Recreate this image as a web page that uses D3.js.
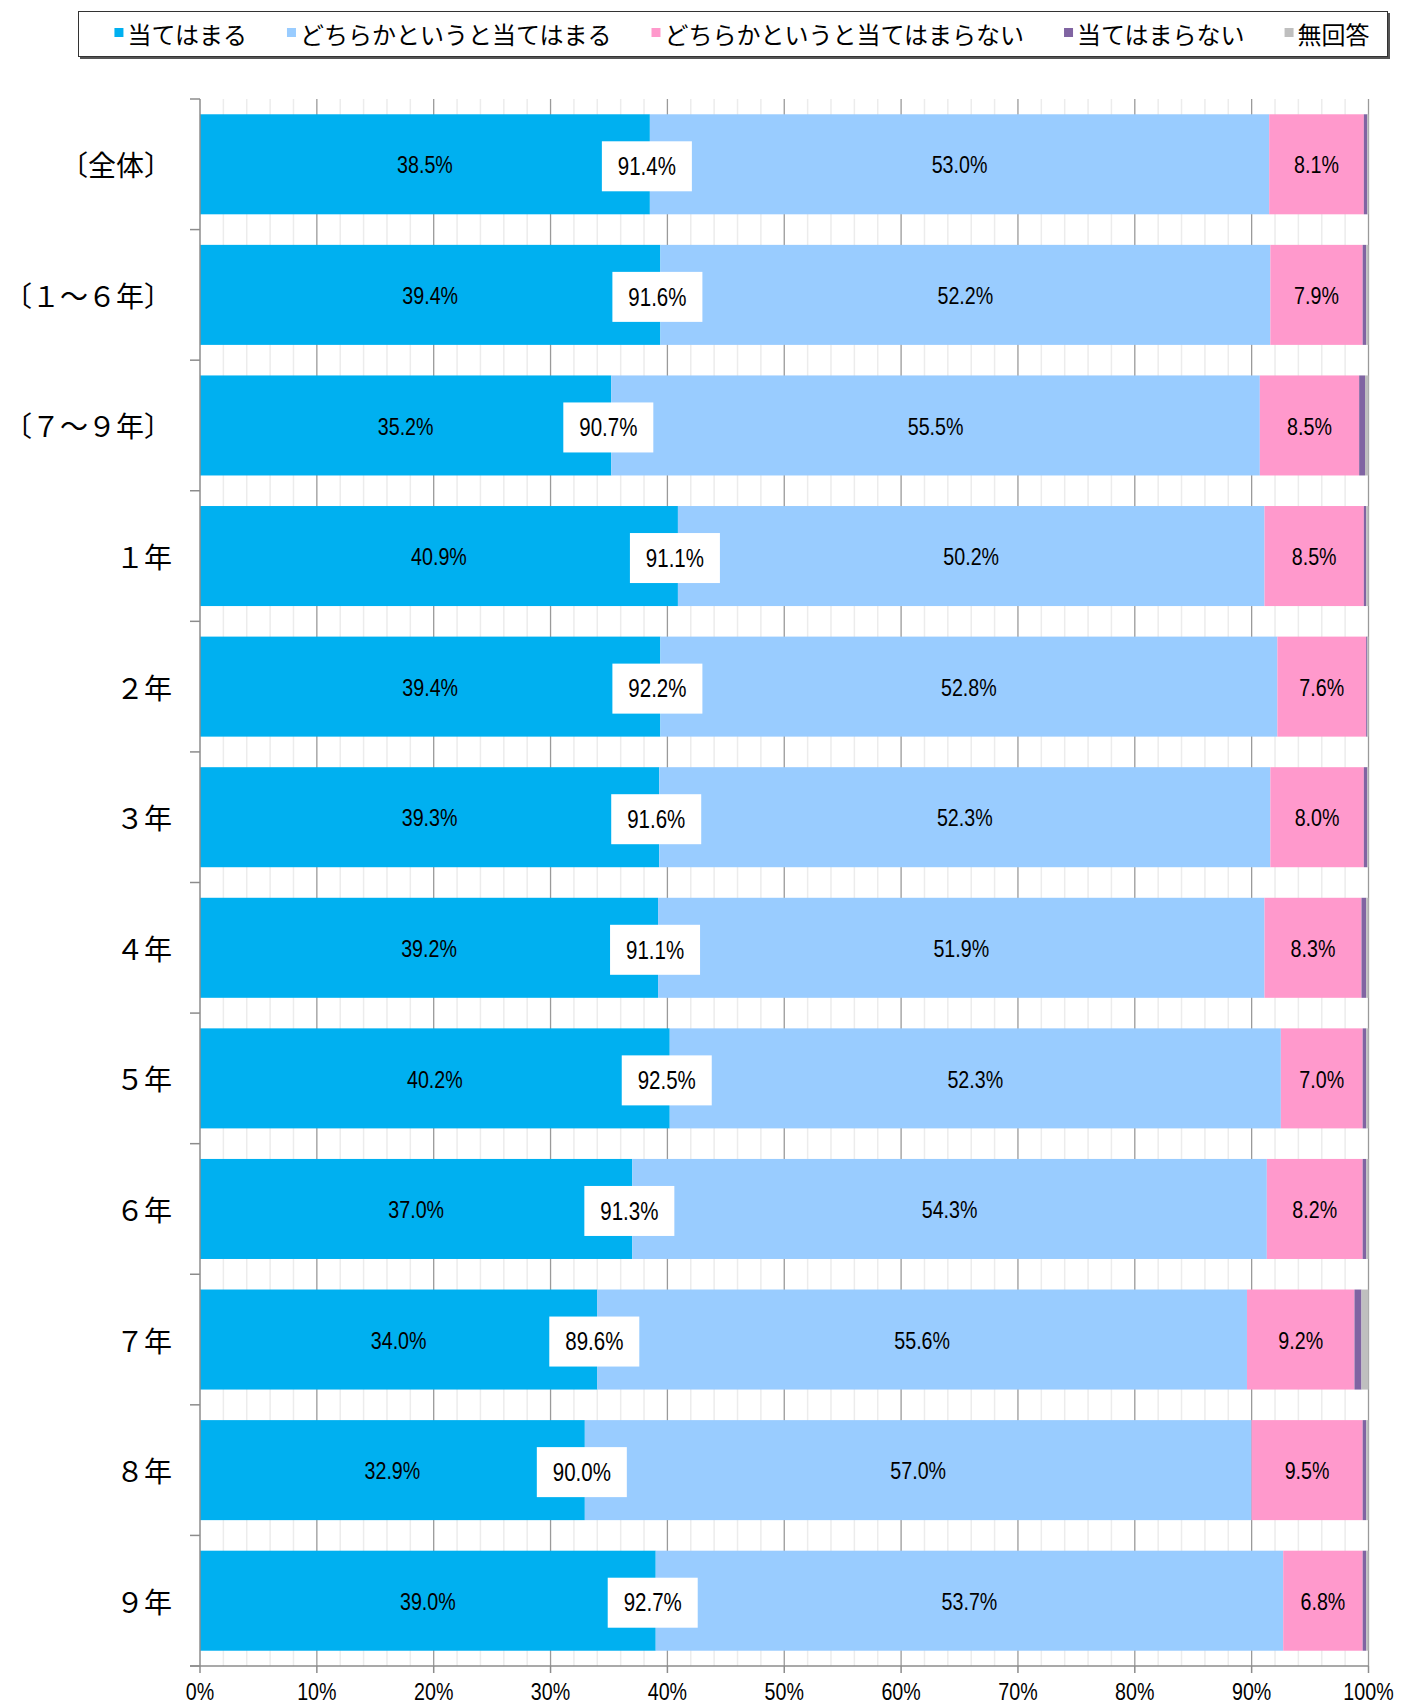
<!DOCTYPE html>
<html><head><meta charset="utf-8">
<script src="https://cdn.jsdelivr.net/npm/d3@7"></script>
<style>
html,body{margin:0;padding:0;background:#fff;}
svg{display:block;}
.num{font-family:"Liberation Sans",Arial,sans-serif;}
.jp{font-family:"Noto Sans CJK JP","Noto Sans",sans-serif;}
</style>
</head><body>
<svg id="chart" width="1404" height="1707"></svg>
<script>
const categories = ["〔全体〕","〔１～６年〕","〔７～９年〕","１年","２年","３年","４年","５年","６年","７年","８年","９年"];
const seriesNames = ["当てはまる","どちらかというと当てはまる","どちらかというと当てはまらない","当てはまらない","無回答"];
const seriesColors = ["#00B0F0","#99CCFF","#FF99CC","#8064A2","#BFBFBF"];
const s1 = [38.5,39.4,35.2,40.9,39.4,39.3,39.2,40.2,37.0,34.0,32.9,39.0];
const s2 = [53.0,52.2,55.5,50.2,52.8,52.3,51.9,52.3,54.3,55.6,57.0,53.7];
const s3 = [8.1,7.9,8.5,8.5,7.6,8.0,8.3,7.0,8.2,9.2,9.5,6.8];
const s4 = [0.3,0.3,0.5,0.2,0.1,0.3,0.4,0.3,0.3,0.6,0.3,0.3];
const s5 = [0.1,0.2,0.3,0.2,0.1,0.1,0.2,0.2,0.2,0.6,0.2,0.2];
const totals = ["91.4%","91.6%","90.7%","91.1%","92.2%","91.6%","91.1%","92.5%","91.3%","89.6%","90.0%","92.7%"];
const xTicks = [0,10,20,30,40,50,60,70,80,90,100];

const series = [s1,s2,s3,s4,s5];
const svg = d3.select("#chart");
const L = 200, R = 1368.5, T = 99, B = 1666;
const x = d3.scaleLinear().domain([0,100]).range([L,R]);
const y = d3.scaleBand().domain(categories).range([T,B]).paddingInner(0.234).paddingOuter(0.117);
const NARROW = 0.82;

function numText(sel, px, py, str, size){
  return sel.append("text").attr("class","num")
    .attr("transform",`translate(${px},${py}) scale(${NARROW},1)`)
    .attr("text-anchor","middle").attr("dominant-baseline","central")
    .attr("font-size",size).attr("fill","#000").text(str);
}

// gridlines
const g = svg.append("g");
g.selectAll("line.minor").data(d3.range(0,101,2).filter(v=>v%10!==0)).enter().append("line")
  .attr("x1",d=>x(d)).attr("x2",d=>x(d)).attr("y1",T).attr("y2",B)
  .attr("stroke","#ececec").attr("stroke-width",1.5);
g.selectAll("line.major").data(xTicks.slice(1)).enter().append("line")
  .attr("x1",d=>x(d)).attr("x2",d=>x(d)).attr("y1",T).attr("y2",B)
  .attr("stroke","#9a9a9a").attr("stroke-width",1.3);

// stacked bars (100% stacked)
const rows = categories.map((c,i)=>{
  const vals = series.map(s=>s[i]);
  const tot = d3.sum(vals);
  let acc = 0;
  return vals.map((v,k)=>{const a=acc; acc+=v/tot*100; return {c, k, v, x0:a, x1:acc};});
});
const bars = svg.append("g");
rows.forEach(r=>{
  bars.selectAll(null).data(r).enter().append("rect")
    .attr("x",d=>x(d.x0)).attr("width",d=>x(d.x1)-x(d.x0))
    .attr("y",d=>y(d.c)).attr("height",y.bandwidth())
    .attr("fill",d=>seriesColors[d.k]);
  r.filter(d=>d.k<3).forEach(d=>{
    numText(bars,(x(d.x0)+x(d.x1))/2, y(d.c)+y.bandwidth()/2+1, d.v.toFixed(1)+"%", 24);
  });
});

// total boxes
const tb = svg.append("g");
rows.forEach((r,i)=>{
  const cx = x(r[0].x1)-3, cy = y(r[0].c)+y.bandwidth()/2+2;
  tb.append("rect").attr("x",cx-45).attr("y",cy-25).attr("width",90).attr("height",50).attr("fill","#fff");
  numText(tb, cx, cy, totals[i], 25);
});

// y axis
const yAx = svg.append("g");
yAx.append("line").attr("x1",L).attr("x2",L).attr("y1",T).attr("y2",B).attr("stroke","#8c8c8c").attr("stroke-width",1.5);
const bounds = categories.map(c=>y(c)-y.step()*0.117).concat([B]);
yAx.selectAll("line.t").data(bounds).enter().append("line")
  .attr("x1",L-10).attr("x2",L).attr("y1",d=>d).attr("y2",d=>d).attr("stroke","#8c8c8c").attr("stroke-width",1.5);
yAx.selectAll("text").data(categories).enter().append("text")
  .attr("class","jp").attr("x",172).attr("y",d=>y(d)+y.bandwidth()/2)
  .attr("text-anchor","end").attr("dominant-baseline","central")
  .attr("font-size",28).attr("fill","#000").text(d=>d);

// x axis
const xAx = svg.append("g");
xAx.append("line").attr("x1",L-10).attr("x2",R).attr("y1",B).attr("y2",B).attr("stroke","#8c8c8c").attr("stroke-width",1.5);
xAx.selectAll("line.t").data(xTicks).enter().append("line")
  .attr("x1",d=>x(d)).attr("x2",d=>x(d)).attr("y1",B).attr("y2",B+7).attr("stroke","#8c8c8c").attr("stroke-width",1.5);
xTicks.forEach(d=>numText(xAx, x(d), B+26, d+"%", 24));

// legend
const lg = svg.append("g");
lg.append("rect").attr("x",80).attr("y",13).attr("width",1310).attr("height",46).attr("fill","#555");
lg.append("rect").attr("x",78.5).attr("y",11.5).attr("width",1309).attr("height",45).attr("fill","#fff").attr("stroke","#333").attr("stroke-width",1);
const items = lg.append("g");
let cur = 0;
const GAP = 40;
seriesNames.forEach((n,k)=>{
  const it = items.append("g").attr("transform",`translate(${cur},0)`);
  it.append("rect").attr("x",0).attr("y",28).attr("width",9).attr("height",9).attr("fill",seriesColors[k]);
  const t = it.append("text").attr("class","jp").attr("x",13).attr("y",33)
    .attr("dominant-baseline","central").attr("font-size",24).attr("fill","#000").text(n);
  cur += 13 + t.node().getComputedTextLength() + GAP;
});
const totalW = cur - GAP;
items.attr("transform",`translate(${742 - totalW/2},0)`);
</script>
</body></html>
